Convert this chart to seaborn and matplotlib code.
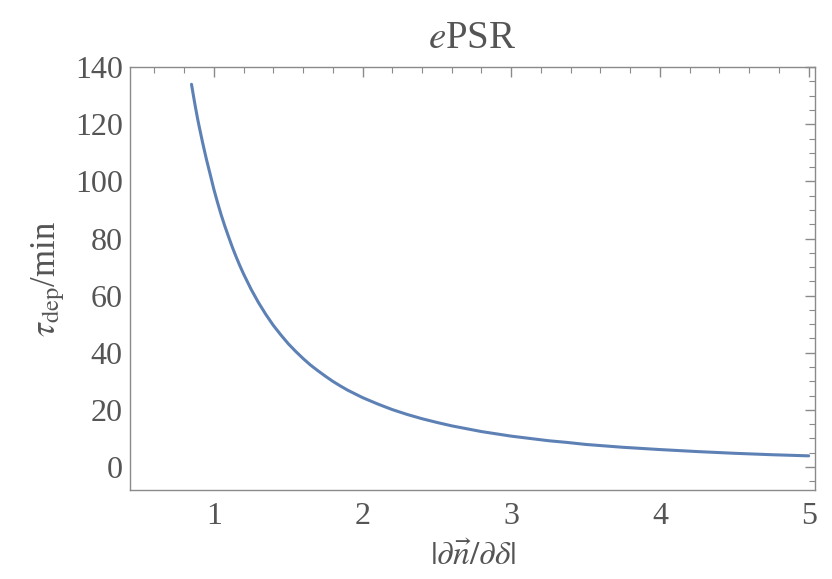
import numpy as np
import pandas as pd
import matplotlib
matplotlib.use("Agg")
import matplotlib.pyplot as plt
import seaborn as sns
from matplotlib.ticker import MultipleLocator

# values
x_vals = [0.85, 0.86, 0.875, 0.89, 0.9, 0.925, 0.95, 0.975, 1.0, 1.025, 1.05,
          1.075, 1.1, 1.125, 1.15, 1.175, 1.2, 1.25, 1.3, 1.35, 1.4, 1.45, 1.5,
          1.55, 1.6, 1.65, 1.7, 1.75, 1.8, 1.85, 1.9, 1.95, 2.0, 2.1, 2.2, 2.3,
          2.4, 2.5, 2.6, 2.7, 2.8, 2.9, 3.0, 3.125, 3.25, 3.375, 3.5, 3.625,
          3.75, 3.875, 4.0, 4.25, 4.5, 4.75, 5.0]
tau_vals = [134.0, 130.9, 126.4, 122.2, 119.6, 113.5, 107.8, 102.6, 97.3, 92.6,
            88.2, 84.2, 80.5, 76.9, 73.6, 70.5, 67.6, 62.3, 57.6, 53.4, 49.6,
            46.3, 43.2, 40.5, 38.0, 35.7, 33.7, 31.8, 30.0, 28.4, 26.9, 25.6,
            24.3, 22.1, 20.1, 18.4, 16.9, 15.6, 14.4, 13.4, 12.4, 11.6, 10.8,
            10.0, 9.2, 8.6, 7.9, 7.4, 6.9, 6.5, 6.1, 5.4, 4.8, 4.3, 3.9]
x_ticks = [1, 2, 3, 4, 5]
y_ticks = [0, 20, 40, 60, 80, 100, 120, 140]

df = pd.DataFrame({"x": x_vals, "tau": tau_vals})

sns.set_style("white")
plt.rcParams["font.family"] = ["Liberation Serif", "DejaVu Serif"]
plt.rcParams["mathtext.fontset"] = "stix"

fig = plt.figure(figsize=(8.32, 5.79), dpi=100)
ax = fig.add_axes([0.156, 0.154, 0.824, 0.730])

sns.lineplot(data=df, x="x", y="tau", ax=ax, color="#5E81B5", linewidth=2.2,
             sort=False)

ax.set_xlim(0.435, 5.045)
ax.set_ylim(-8, 140)
ax.set_xticks(x_ticks)
ax.set_yticks(y_ticks)
ax.xaxis.set_minor_locator(MultipleLocator(0.2))
ax.yaxis.set_minor_locator(MultipleLocator(5))

frame_col = "#8a8a8a"
text_col = "#555555"
for s in ax.spines.values():
    s.set_color(frame_col)
    s.set_linewidth(1.0)
ax.tick_params(which="both", direction="in", top=True, right=True,
               color=frame_col, labelcolor=text_col, labelsize=23)
ax.tick_params(which="major", length=7, width=1.0)
ax.tick_params(which="minor", length=4, width=0.8)
ax.tick_params(axis="x", which="major", pad=9)
ax.tick_params(axis="y", which="major", pad=5)

ax.set_xlabel(r"$|\partial\vec{n}/\partial\delta|$", fontsize=24,
              color=text_col, labelpad=7)
ax.set_ylabel(r"$\tau_{\rm dep}$/min", fontsize=25, color=text_col, labelpad=6)
ax.set_title(r"$\it{e}$PSR", fontsize=28, color=text_col, pad=14)

fig.savefig("out.png", dpi=100)
plt.close(fig)
